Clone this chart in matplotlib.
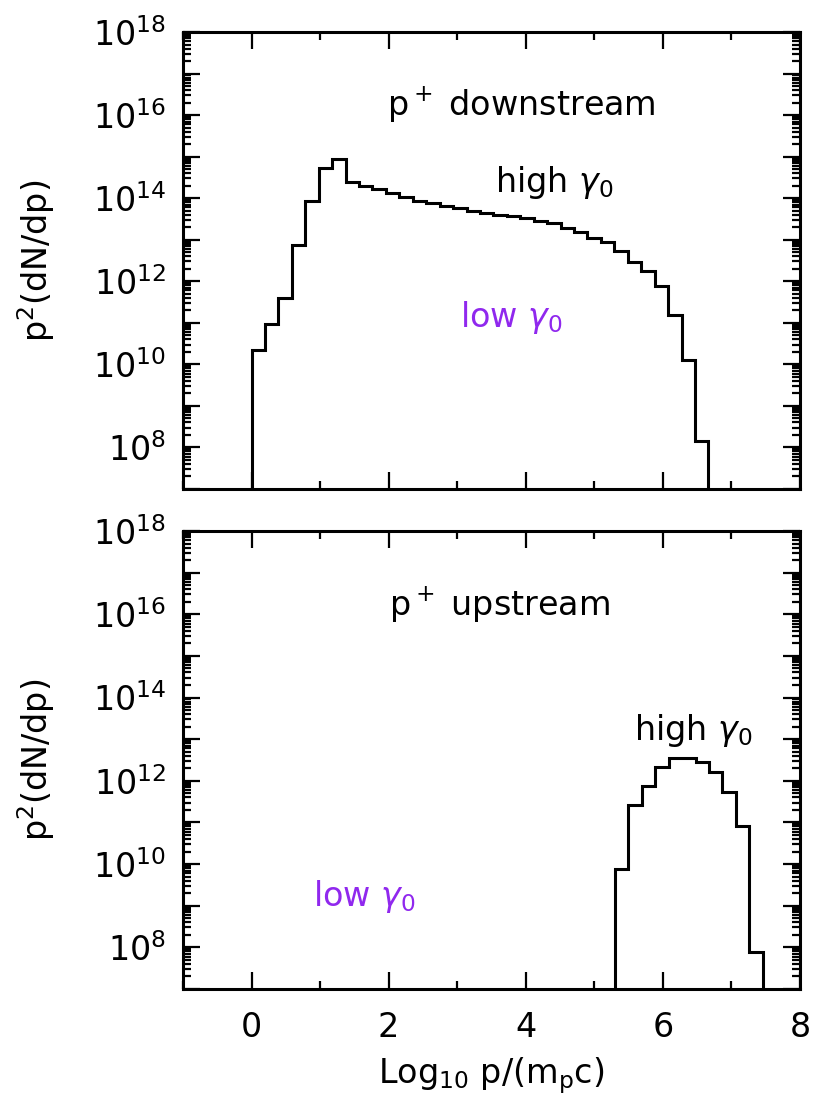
import numpy as np
import matplotlib
matplotlib.use("Agg")
import matplotlib.pyplot as plt
from matplotlib.ticker import FixedLocator, FuncFormatter, LogLocator, MultipleLocator, NullFormatter

# --- data (log10 of p^2 dN/dp per bin) ---
BIN_WIDTH = 0.196
down_start = 0.0
down_log = [10.34, 10.96, 11.60, 12.88, 13.94, 14.73, 14.94, 14.40, 14.30, 14.21,
            14.13, 14.03, 13.93, 13.88, 13.82, 13.76, 13.69, 13.64, 13.60, 13.56,
            13.52, 13.46, 13.40, 13.28, 13.18, 13.05, 12.94, 12.74, 12.47, 12.24,
            11.89, 11.20, 10.10, 8.15]
up_start = 5.3
up_log = [9.88, 11.42, 11.88, 12.34, 12.54, 12.56, 12.45, 12.21, 11.72, 10.92, 7.90]

YMIN, YMAX = 1e7, 1e18
XMIN, XMAX = -1, 8
PURPLE = "#9028ee"
FS = 24

plt.rcParams['font.family'] = ['DejaVu Sans']
plt.rcParams['mathtext.fontset'] = 'dejavusans'


def dec_label(v, pos):
    e = int(round(np.log10(v)))
    if e % 2 == 0 and e >= 8:
        return f"$10^{{{e}}}$"
    return ""


def style_axis(ax, show_xlabels):
    ax.set_yscale('log')
    ax.set_xlim(XMIN, XMAX)
    ax.set_ylim(YMIN, YMAX)
    ax.yaxis.set_major_locator(FixedLocator([10.0**e for e in range(7, 19)]))
    ax.yaxis.set_major_formatter(FuncFormatter(dec_label))
    ax.yaxis.set_minor_locator(LogLocator(base=10, subs=np.arange(2, 10), numticks=100))
    ax.yaxis.set_minor_formatter(NullFormatter())
    ax.xaxis.set_major_locator(MultipleLocator(2))
    ax.xaxis.set_minor_locator(MultipleLocator(1))
    ax.tick_params(which='both', direction='in', top=True, right=True, width=1.6)
    ax.tick_params(which='major', length=12, labelsize=FS)
    ax.tick_params(axis='y', which='major', pad=12)
    ax.tick_params(axis='x', which='major', pad=16)
    ax.tick_params(which='minor', length=6)
    if not show_xlabels:
        ax.tick_params(axis='x', labelbottom=False)
    for s in ax.spines.values():
        s.set_linewidth(2.2)
    ax.set_ylabel("p$^2$(dN/dp)", fontsize=FS, labelpad=26)


fig = plt.figure(figsize=(8.21, 10.97), dpi=100)
W, H = 821, 1097
ax1 = fig.add_axes([183 / W, (H - 489) / H, 617 / W, 457 / H])
ax2 = fig.add_axes([183 / W, (H - 989) / H, 617 / W, 458 / H])

down_edges = down_start + BIN_WIDTH * np.arange(len(down_log) + 1)
up_edges = up_start + BIN_WIDTH * np.arange(len(up_log) + 1)

ax1.stairs(10.0 ** np.array(down_log), down_edges, baseline=1e6, color='black', linewidth=2.2)
ax2.stairs(10.0 ** np.array(up_log), up_edges, baseline=1e6, color='black', linewidth=2.2)

style_axis(ax1, False)
style_axis(ax2, True)
ax2.set_xlabel("Log$_{10}$ p/(m$_\\mathrm{p}$c)", fontsize=FS, labelpad=8)

ax1.text(3.93, 10 ** 16.24, "p$^+$ downstream", fontsize=FS, ha='center', va='center')
ax1.text(4.42, 10 ** 14.37, "high $\\gamma_0$", fontsize=FS, ha='center', va='center')
ax1.text(3.79, 10 ** 11.12, "low $\\gamma_0$", fontsize=FS, ha='center', va='center', color=PURPLE)

ax2.text(3.62, 10 ** 16.21, "p$^+$ upstream", fontsize=FS, ha='center', va='center')
ax2.text(6.44, 10 ** 13.21, "high $\\gamma_0$", fontsize=FS, ha='center', va='center')
ax2.text(1.64, 10 ** 9.21, "low $\\gamma_0$", fontsize=FS, ha='center', va='center', color=PURPLE)

fig.savefig("out.png", dpi=100)
